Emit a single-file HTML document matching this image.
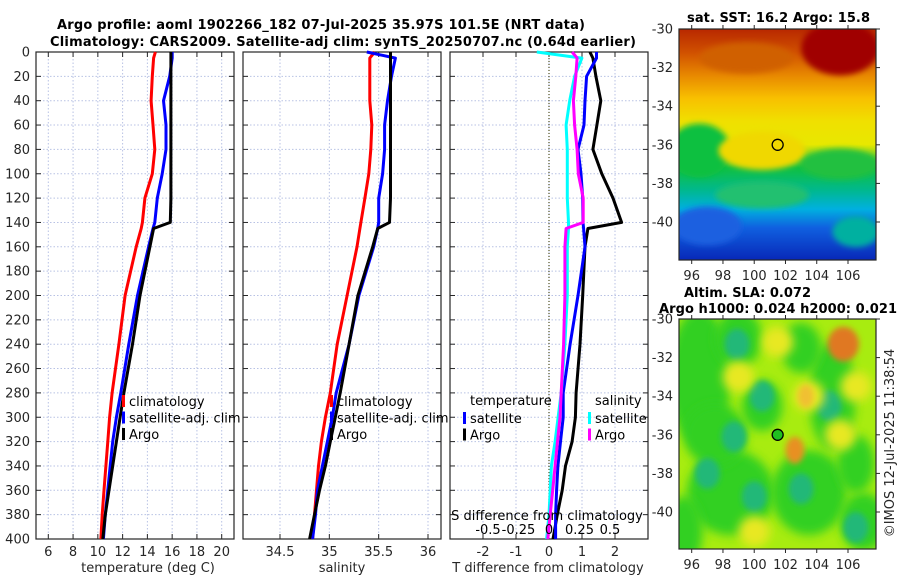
<!DOCTYPE html>
<html><head><meta charset="utf-8"><style>
body{margin:0;background:#fff}
svg{display:block;font-family:"DejaVu Sans","Liberation Sans",sans-serif}
</style></head><body>
<svg id="s" width="900" height="580" viewBox="0 0 900 580" xmlns="http://www.w3.org/2000/svg">
<defs>
<filter id="bl" x="-20%" y="-20%" width="140%" height="140%"><feGaussianBlur stdDeviation="3"/></filter>
<filter id="bl2" x="-50%" y="-50%" width="200%" height="200%"><feGaussianBlur stdDeviation="5"/></filter>
<clipPath id="c1"><rect x="679" y="29" width="197" height="231"/></clipPath>
<clipPath id="c2"><rect x="679" y="319" width="197" height="230"/></clipPath>
<linearGradient id="sstg" x1="0" y1="0" x2="0" y2="1">
<stop offset="0" stop-color="#b82800"/><stop offset="0.1" stop-color="#d05000"/><stop offset="0.2" stop-color="#e88800"/>
<stop offset="0.3" stop-color="#f8c000"/><stop offset="0.4" stop-color="#f0e000"/><stop offset="0.5" stop-color="#e8e800"/>
<stop offset="0.6" stop-color="#10c040"/><stop offset="0.7" stop-color="#00b890"/><stop offset="0.78" stop-color="#00b0e0"/>
<stop offset="0.86" stop-color="#1060e0"/><stop offset="1" stop-color="#0828b8"/></linearGradient>
</defs>
<g id="plots"></g>
<text x="57" y="29" font-size="13" font-weight="bold" fill="#000" textLength="528">Argo profile: aoml 1902266_182 07-Jul-2025 35.97S 101.5E (NRT data)</text>
<text x="50" y="46" font-size="13" font-weight="bold" fill="#000" textLength="586">Climatology: CARS2009. Satellite-adj clim: synTS_20250707.nc (0.64d earlier)</text>
<text x="148" y="572" font-size="13" fill="#262626" text-anchor="middle">temperature (deg C)</text>
<text x="342" y="572" font-size="13" fill="#262626" text-anchor="middle">salinity</text>
<text x="548" y="572" font-size="13" fill="#262626" text-anchor="middle">T difference from climatology</text>
<text x="547" y="520" font-size="13" fill="#000" text-anchor="middle">S difference from climatology</text>
<text x="687" y="22" font-size="13" font-weight="bold" textLength="183">sat. SST: 16.2 Argo: 15.8</text>
<text x="684" y="297" font-size="13" font-weight="bold">Altim. SLA: 0.072</text>
<text x="659" y="313" font-size="13" font-weight="bold" textLength="238">Argo h1000: 0.024 h2000: 0.021</text>
<text transform="translate(894,443) rotate(-90)" font-size="13" fill="#262626" text-anchor="middle">©IMOS 12-Jul-2025 11:38:54</text>
</svg>
<script>
const depths=[0,5,20,40,60,80,100,120,140,145,160,200,240,280,300,320,340,360,380,400];
const argoT=[15.9,15.9,15.9,15.9,15.9,15.9,15.9,15.9,15.85,14.5,14.2,13.4,12.8,12.1,11.8,11.5,11.2,10.9,10.6,10.4];
const satT=[16.0,16.0,15.8,15.3,15.5,15.5,15.2,14.8,14.6,14.45,14.1,13.2,12.5,11.85,11.5,11.2,11.0,10.8,10.6,10.45];
const climT=[14.65,14.5,14.4,14.3,14.45,14.6,14.4,13.8,13.6,13.5,13.1,12.2,11.7,11.15,10.95,10.8,10.65,10.5,10.35,10.25];
const argoS=[35.62,35.62,35.62,35.62,35.62,35.62,35.62,35.62,35.61,35.49,35.44,35.29,35.2,35.11,35.06,35.01,34.96,34.9,34.85,34.8];
const satS=[35.38,35.67,35.63,35.59,35.56,35.56,35.54,35.5,35.5,35.49,35.45,35.3,35.2,35.07,35.03,34.98,34.93,34.88,34.86,34.83];
const climS=[35.46,35.41,35.41,35.41,35.43,35.42,35.4,35.36,35.32,35.31,35.28,35.18,35.08,35.01,34.96,34.92,34.89,34.87,34.85,34.83];
const dTargo=[1.24,1.33,1.42,1.57,1.45,1.33,1.6,1.94,2.2,1.18,1.09,1.02,0.94,0.82,0.8,0.7,0.5,0.4,0.25,0.12];
const dTsat=[1.44,1.44,1.14,1.09,1.06,0.88,0.97,1.02,1.03,1.05,1.09,0.88,0.64,0.43,0.43,0.35,0.27,0.23,0.2,0.2];
const dSsat=[-0.1,0.27,0.21,0.17,0.14,0.15,0.15,0.15,0.16,0.16,0.15,0.15,0.13,0.1,0.075,0.05,0.02,0.01,0,-0.02];
const dSargo=[0.19,0.23,0.22,0.2,0.21,0.23,0.24,0.28,0.28,0.14,0.13,0.13,0.12,0.1,0.09,0.07,0.05,0.03,0.01,-0.01];
const depthTicks=[0,20,40,60,80,100,120,140,160,180,200,220,240,260,280,300,320,340,360,380,400];
const tTicks=[6,8,10,12,14,16,18,20];
const sTicks=[34.5,35,35.5,36];
const dTTicks=[-2,-1,0,1,2];
const dSTicks=[-0.5,-0.25,0,0.25,0.5];
const dSTickLabels=['-0.5','-0.25','0','0.25','0.5'];
const lonTicks=[96,98,100,102,104,106];
const latTicks=[-30,-32,-34,-36,-38,-40];
const argoLon=101.5, argoLat=-36;

const NS='http://www.w3.org/2000/svg';
const root=document.getElementById('plots');
function mk(tag,attrs,parent){const e=document.createElementNS(NS,tag);for(const k in attrs)e.setAttribute(k,attrs[k]);(parent||root).appendChild(e);return e;}
const Y0=52,Y1=539;
const yD=d=>Y0+(d/400)*(Y1-Y0);
function lin(d0,d1,r0,r1){return v=>r0+(v-d0)/(d1-d0)*(r1-r0);}
const xT=lin(6,20,48.3,221.7);
const xS=lin(34.5,36,280,428);
const xdT=lin(-2,2,483,615);
const xdS=lin(-0.5,0.5,488,610);

function panel(name,x0,x1,xs,ticks,labels,showY){
  const g=mk('g',{});
  
  
  ticks.forEach(t=>{const l=mk('line',{x1:xs(t),x2:xs(t),y1:Y0,y2:Y1,stroke:'#b8c2e4','stroke-dasharray':'1.5,2','stroke-width':1},g);
    });
  depthTicks.forEach(d=>{const l=mk('line',{x1:x0,x2:x1,y1:yD(d),y2:yD(d),stroke:'#b8c2e4','stroke-dasharray':'1.5,2','stroke-width':1},g);
    
    mk('line',{x1:x0,x2:x0+5,y1:yD(d),y2:yD(d),stroke:'#262626'},g);
    mk('line',{x1:x1-5,x2:x1,y1:yD(d),y2:yD(d),stroke:'#262626'},g);
    if(showY){const t=mk('text',{x:30,y:yD(d)+4.5,'font-size':13,'text-anchor':'end',fill:'#262626'},g);t.textContent=d;
      }
  });
  ticks.forEach((t,i)=>{mk('line',{x1:xs(t),x2:xs(t),y1:Y1,y2:Y1-5,stroke:'#262626'},g);mk('line',{x1:xs(t),x2:xs(t),y1:Y0,y2:Y0+5,stroke:'#262626'},g);
    const tx=mk('text',{x:xs(t),y:556,'font-size':13,'text-anchor':'middle',fill:'#262626'},g);tx.textContent=labels[i];
    });
  const b=mk('rect',{x:x0,y:Y0,width:x1-x0,height:Y1-Y0,fill:'none',stroke:'#262626','stroke-width':1.2},g);
  
  return g;
}
function line(g,name,vals,xs,color,w){
  const p=mk('polyline',{points:vals.map((v,i)=>xs(v).toFixed(1)+','+yD(depths[i]).toFixed(1)).join(' '),fill:'none',stroke:color,'stroke-width':w||3,'stroke-linejoin':'round'},g);
  
}
function legend(g,x,y,items){
  items.forEach((it,i)=>{const r=mk('rect',{x:x,y:y+i*16.5-6,width:3,height:12,fill:it[1]},g);
    
    const t=mk('text',{x:x+7,y:y+i*16.5+5,'font-size':13,fill:'#000'},g);t.textContent=it[0];
    });
}
const p1=panel('temperature-panel',36,234,xT,tTicks,tTicks.map(String),true);
line(p1,'climatology-temperature-line',climT,xT,'#ff0000');
line(p1,'satellite-temperature-line',satT,xT,'#0000ff');
line(p1,'argo-temperature-line',argoT,xT,'#000');
legend(p1,122,401,[['climatology','#ff0000'],['satellite-adj. clim','#0000ff'],['Argo','#000']]);

const p2=panel('salinity-panel',243,441,xS,sTicks,['34.5','35','35.5','36'],false);
line(p2,'climatology-salinity-line',climS,xS,'#ff0000');
line(p2,'satellite-salinity-line',satS,xS,'#0000ff');
line(p2,'argo-salinity-line',argoS,xS,'#000');
legend(p2,330,401,[['climatology','#ff0000'],['satellite-adj. clim','#0000ff'],['Argo','#000']]);

const p3=panel('difference-panel',450,648,xdT,dTTicks,dTTicks.map(String),false);
const z=mk('line',{x1:xdT(0),x2:xdT(0),y1:Y0,y2:Y1,stroke:'#505020','stroke-dasharray':'1,2','stroke-width':1.2},p3);

line(p3,'argo-t-diff-line',dTargo,xdT,'#000');
line(p3,'satellite-t-diff-line',dTsat,xdT,'#0000ff');
line(p3,'satellite-s-diff-line',dSsat,xdS,'#00ffff');
line(p3,'argo-s-diff-line',dSargo,xdS,'#ff00ff');
const th=mk('text',{x:470,y:405,'font-size':13},p3);th.textContent='temperature';

const sh=mk('text',{x:595,y:405,'font-size':13},p3);sh.textContent='salinity';

legend(p3,463,418,[['satellite','#0000ff'],['Argo','#000']]);
legend(p3,588,418,[['satellite','#00ffff'],['Argo','#ff00ff']]);
dSTicks.forEach((t,i)=>{const tx=mk('text',{x:xdS(t),y:534,'font-size':13,'text-anchor':'middle',fill:'#000'},p3);tx.textContent=dSTickLabels[i];
  });

// maps
const xL=lin(96,106,691.7,848);
function mapFrame(name,top,clip){
  const g=mk('g',{});
  
  
  const yL=lin(-30,-40,top,top+193);
  const inner=mk('g',{'clip-path':'url(#'+clip+')'},g);
  return {g,inner,yL,top};
}
function el(par,lon,lat,rx,ry,col,yL,f){return mk('ellipse',{cx:xL(lon),cy:yL(lat),rx:rx*15.6,ry:ry*19.3,fill:col,filter:'url(#'+(f||'bl')+')'},par);}
function mapAxes(m,h){
  const g=m.g,top=m.top;
  const b=mk('rect',{x:679,y:top,width:197,height:h,fill:'none',stroke:'#262626','stroke-width':1.2},g);
  
  latTicks.forEach(t=>{mk('line',{x1:876,x2:880,y1:m.yL(t),y2:m.yL(t),stroke:'#262626'},g);
    const tx=mk('text',{x:673,y:m.yL(t)+4.5,'font-size':13,'text-anchor':'end',fill:'#262626'},g);tx.textContent=t;
    });
  lonTicks.forEach(t=>{mk('line',{x1:xL(t),x2:xL(t),y1:top+h,y2:top+h+4,stroke:'#262626'},g);mk('line',{x1:xL(t),x2:xL(t),y1:top,y2:top-4,stroke:'#262626'},g);
    const tx=mk('text',{x:xL(t),y:top+h+20,'font-size':13,'text-anchor':'middle',fill:'#262626'},g);tx.textContent=t;
    });
}
const m1=mapFrame('sst-map',29,'c1');
mk('rect',{x:679,y:29,width:197,height:231,fill:'url(#sstg)'},m1.inner);
const y1=m1.yL;
el(m1.inner,105.5,-31,2.5,1.4,'#a00000',y1);
el(m1.inner,99.5,-31.5,3,0.8,'#d06000',y1);
el(m1.inner,96.5,-36.3,2,1.4,'#10c040',y1);
el(m1.inner,100.5,-36.3,2.8,1,'#f0d800',y1);
el(m1.inner,105.5,-37,2.5,0.8,'#20c040',y1);
el(m1.inner,100.5,-38.6,3,0.7,'#20c070',y1);
el(m1.inner,97,-40.2,2.2,1.0,'#1a60e0',y1);
el(m1.inner,106.5,-40.5,1.5,0.8,'#00b0a0',y1);
const c1=mk('circle',{cx:xL(argoLon),cy:y1(argoLat),r:5.5,fill:'none',stroke:'#000','stroke-width':1.3},m1.g);

mapAxes(m1,231);

const m2=mapFrame('sla-map',319,'c2');
const y2=m2.yL;
mk('rect',{x:679,y:319,width:197,height:230,fill:'#a8ec10'},m2.inner);
[[96.5,-33,2,3.5],[98.5,-39,2.8,2.2],[103.5,-39,2.4,2.2],[105,-34,1.5,2.8],[97.5,-36,2,1.6],[103,-31.5,1.3,1.3],[107,-40.5,1.5,1.5],[100.5,-34.5,1.3,1.3],[95.5,-41,1.2,1.8],[99,-31,1.5,1.5],[106.5,-37.5,1.2,1.5]].forEach(a=>el(m2.inner,a[0],a[1],a[2],a[3],'#30d020',y2,'bl2'));
[[98.9,-31.3],[98.7,-36.1],[104.8,-34.5],[106.5,-40.8],[97,-38],[100,-39.2],[103,-38.8],[100.5,-34]].forEach(a=>el(m2.inner,a[0],a[1],0.8,0.8,'#20b878',y2));
[[101.5,-31.2],[99,-33],[103.5,-34],[106.5,-33.5],[105.5,-36],[100,-41]].forEach(a=>el(m2.inner,a[0],a[1],1,0.8,'#e8e820',y2,'bl2'));
el(m2.inner,105.7,-31.3,1,0.9,'#e07820',y2);
el(m2.inner,102.6,-36.8,0.6,0.7,'#e89020',y2);
el(m2.inner,103.3,-34,0.5,0.6,'#f0c030',y2);
const c2=mk('circle',{cx:xL(argoLon),cy:y2(argoLat),r:5.5,fill:'#20c020',stroke:'#000','stroke-width':1.3},m2.g);

mapAxes(m2,230);
</script>
</body></html>
